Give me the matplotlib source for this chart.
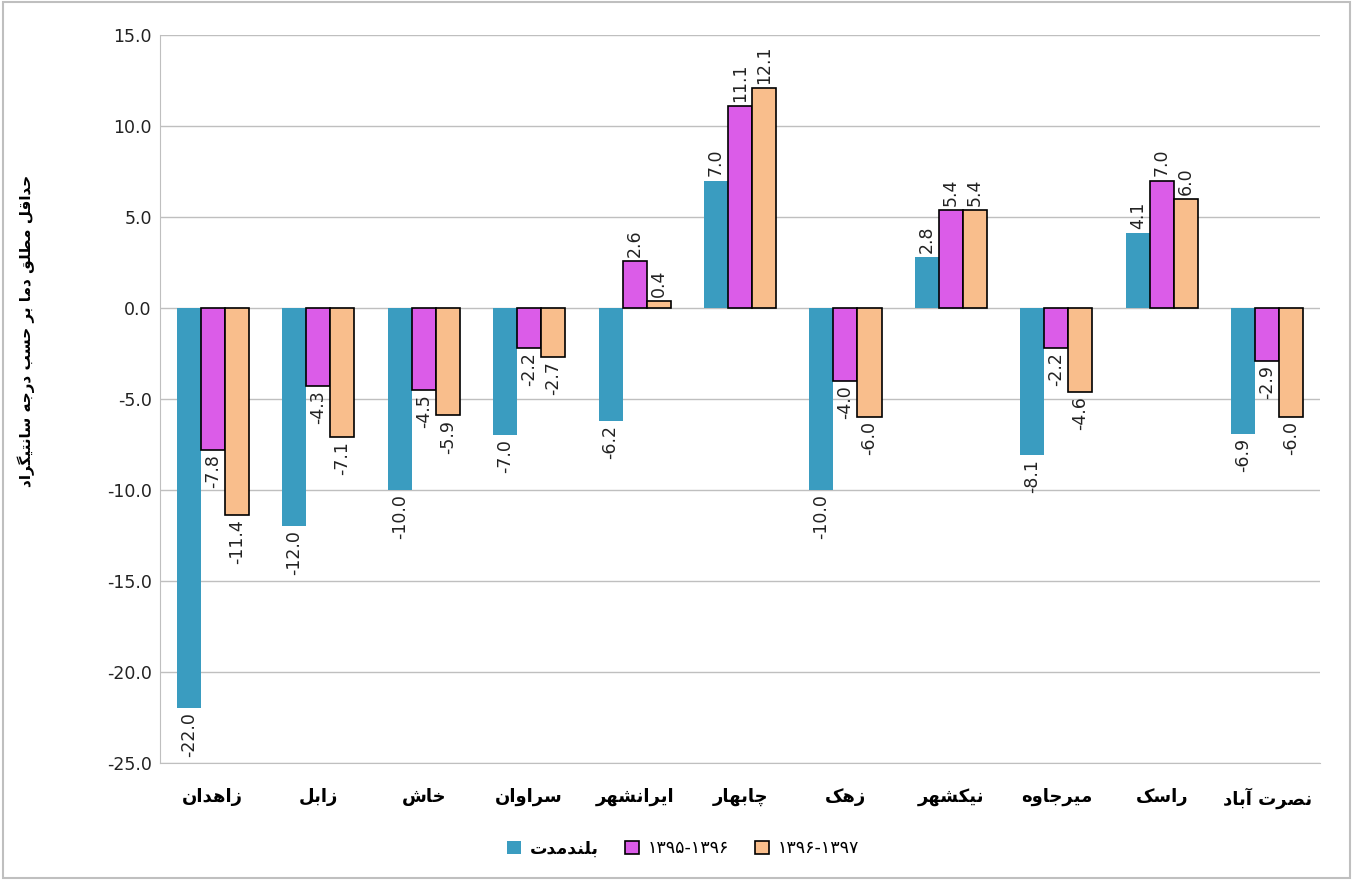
import numpy as np
import matplotlib
matplotlib.use("Agg")
import matplotlib.pyplot as plt
from matplotlib.patches import Rectangle

# Persian text: matplotlib has no Arabic shaping, so map letters to their
# presentation forms by hand and flip to visual order.
FORMS = {
    'ا': ('\uFE8D', '\uFE8E'), 'آ': ('\uFE81', '\uFE82'),
    'د': ('\uFEA9', '\uFEAA'), 'ر': ('\uFEAD', '\uFEAE'),
    'ز': ('\uFEAF', '\uFEB0'), 'و': ('\uFEED', '\uFEEE'),
    'ب': ('\uFE8F', '\uFE90', '\uFE91', '\uFE92'),
    'ت': ('\uFE95', '\uFE96', '\uFE97', '\uFE98'),
    'ج': ('\uFE9D', '\uFE9E', '\uFE9F', '\uFEA0'),
    'ح': ('\uFEA1', '\uFEA2', '\uFEA3', '\uFEA4'),
    'خ': ('\uFEA5', '\uFEA6', '\uFEA7', '\uFEA8'),
    'س': ('\uFEB1', '\uFEB2', '\uFEB3', '\uFEB4'),
    'ش': ('\uFEB5', '\uFEB6', '\uFEB7', '\uFEB8'),
    'ص': ('\uFEB9', '\uFEBA', '\uFEBB', '\uFEBC'),
    'ط': ('\uFEC1', '\uFEC2', '\uFEC3', '\uFEC4'),
    'ق': ('\uFED5', '\uFED6', '\uFED7', '\uFED8'),
    'ل': ('\uFEDD', '\uFEDE', '\uFEDF', '\uFEE0'),
    'م': ('\uFEE1', '\uFEE2', '\uFEE3', '\uFEE4'),
    'ن': ('\uFEE5', '\uFEE6', '\uFEE7', '\uFEE8'),
    'ه': ('\uFEE9', '\uFEEA', '\uFEEB', '\uFEEC'),
    'ی': ('\uFBFC', '\uFBFD', '\uFBFE', '\uFBFF'),
    'چ': ('\uFB7A', '\uFB7B', '\uFB7C', '\uFB7D'),
    'ک': ('\uFB8E', '\uFB8F', '\uFB90', '\uFB91'),
    'گ': ('\uFB92', '\uFB93', '\uFB94', '\uFB95'),
}


def fa(text):
    out = []
    for i, c in enumerate(text):
        if c not in FORMS:
            out.append(c)
            continue
        prev = text[i - 1] if i > 0 else None
        nxt = text[i + 1] if i + 1 < len(text) else None
        jp = prev in FORMS and len(FORMS[prev]) == 4
        jn = len(FORMS[c]) == 4 and nxt in FORMS
        f = FORMS[c]
        if jp and jn:
            out.append(f[3])
        elif jp:
            out.append(f[1])
        elif jn:
            out.append(f[2])
        else:
            out.append(f[0])
    return ''.join(reversed(out))


cities = ['زاهدان', 'زابل', 'خاش', 'سراوان', 'ایرانشهر', 'چابهار',
          'زهک', 'نیکشهر', 'میرجاوه', 'راسک', 'نصرت آباد']
series_names = ['بلندمدت', '۱۳۹۵-۱۳۹۶', '۱۳۹۶-۱۳۹۷']
long_term = [-22.0, -12.0, -10.0, -7.0, -6.2, 7.0, -10.0, 2.8, -8.1, 4.1, -6.9]
y9596 = [-7.8, -4.3, -4.5, -2.2, 2.6, 11.1, -4.0, 5.4, -2.2, 7.0, -2.9]
y9697 = [-11.4, -7.1, -5.9, -2.7, 0.4, 12.1, -6.0, 5.4, -4.6, 6.0, -6.0]
y_label = 'حداقل مطلق دما بر حسب درجه سانتیگراد'

colors = ['#3A9CC0', '#DB5CE8', '#F9BE8C']
edges = ['none', 'black', 'black']

plt.rcParams['font.family'] = ['DejaVu Sans']

fig = plt.figure(figsize=(13.53, 8.8), dpi=100)
ax = fig.add_axes([0.1183, 0.133, 0.8573, 0.8272])

x = np.arange(len(cities))
w = 0.228
data = [long_term, y9596, y9697]
for k, vals in enumerate(data):
    pos = x + (k - 1) * w
    name = fa(series_names[k]) if k == 0 else series_names[k]
    ax.bar(pos, vals, w, color=colors[k], edgecolor=edges[k],
           linewidth=1.2 if k else 0, label=name, zorder=3)
    for p, v in zip(pos, vals):
        ax.annotate(f'{v:.1f}', (p, v), xytext=(0, 3 if v >= 0 else -3),
                    textcoords='offset points', rotation=90, ha='center',
                    va='bottom' if v >= 0 else 'top', fontsize=12.5, color='#222222')

ax.set_ylim(-25, 15)
ax.set_xlim(-0.5, len(cities) - 0.5)
ticks = np.arange(-25, 15.1, 5)
ax.set_yticks(ticks)
ax.set_yticklabels([f'{t:.1f}' for t in ticks], fontsize=12.5, color='#222222')
ax.set_xticks(x)
ax.set_xticklabels([fa(c) for c in cities], fontsize=13, fontweight='bold')
ax.tick_params(axis='both', length=0)
ax.tick_params(axis='x', pad=18)
ax.tick_params(axis='y', pad=6)
ax.grid(axis='y', color='#BFBFBF', linewidth=1, zorder=0)
for s in ['top', 'right']:
    ax.spines[s].set_visible(False)
ax.spines['left'].set_color('#BFBFBF')
ax.spines['bottom'].set_color('#BFBFBF')

ax.set_ylabel(fa(y_label), fontsize=11, fontweight='bold')
ax.yaxis.set_label_coords(-0.108, 0.593)

leg = fig.legend(loc='center', bbox_to_anchor=(0.505, 0.036), ncol=3,
                 frameon=False, fontsize=12.5, handlelength=0.8, handleheight=0.8,
                 columnspacing=1.5, handletextpad=0.5)
leg.get_texts()[0].set_fontweight('bold')

fig.patches.append(Rectangle((0.002, 0.002), 0.996, 0.996, transform=fig.transFigure,
                             fill=False, edgecolor='#BFBFBF', linewidth=1.5))

fig.savefig('out.png', dpi=100)
